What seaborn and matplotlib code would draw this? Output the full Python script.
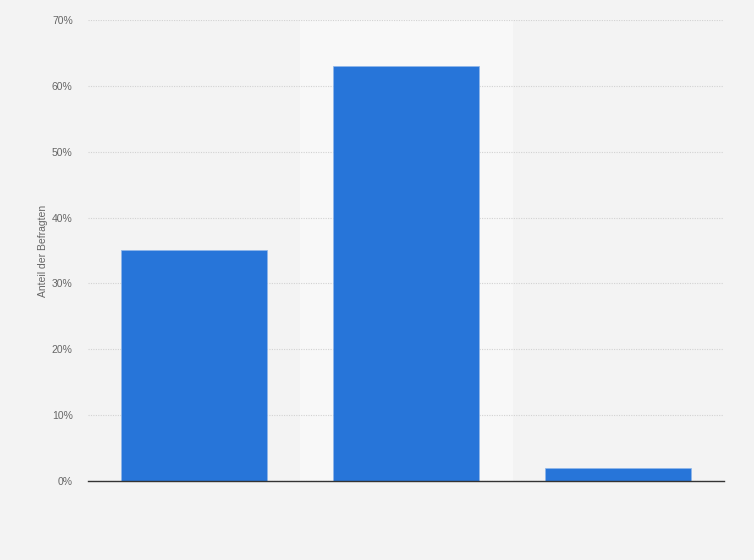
import pandas as pd
import matplotlib.pyplot as plt
import seaborn as sns
from matplotlib.ticker import PercentFormatter

categories = ["A", "B", "C"]
shares = [35, 63, 2]
y_ticks = [0, 10, 20, 30, 40, 50, 60, 70]

df = pd.DataFrame({"kategorie": categories, "anteil": shares})

sns.set_style("white")
plt.rcParams['font.family'] = ['Liberation Sans', 'DejaVu Sans']

fig = plt.figure(figsize=(7.54, 5.6), dpi=100)
fig.patch.set_facecolor('#f3f3f3')
ax = fig.add_axes([0.1167, 0.1411, 0.8435, 0.8232])
ax.set_facecolor('#f3f3f3')

# hover-highlight behind the middle bar
ax.axvspan(0.5, 1.5, color='#f8f8f8', zorder=0)

sns.barplot(data=df, x="kategorie", y="anteil", color='#2775d9',
            width=0.69, saturation=1, ax=ax, zorder=2,
            edgecolor='#8fb6ea', linewidth=0.5)

ax.set_ylim(0, 70)
ax.set_xlim(-0.5, 2.5)
ax.set_yticks(y_ticks)
ax.yaxis.set_major_formatter(PercentFormatter(decimals=0))
ax.grid(axis='y', color='#d2d2d2', linestyle=(0, (1, 1.2)), linewidth=0.8, zorder=1)
ax.set_axisbelow(True)

for s in ['top', 'right', 'left']:
    ax.spines[s].set_visible(False)
ax.spines['bottom'].set_color('#333333')
ax.spines['bottom'].set_linewidth(1)
ax.spines['bottom'].set_zorder(3)

ax.tick_params(axis='y', length=0, labelsize=7.5, labelcolor='#666666', pad=11)
ax.tick_params(axis='x', length=0, labelbottom=False)
ax.set_xlabel("")
ax.set_ylabel("Anteil der Befragten", fontsize=7.5, color='#666666', labelpad=3)

plt.savefig("out.png", dpi=100, facecolor=fig.get_facecolor())
